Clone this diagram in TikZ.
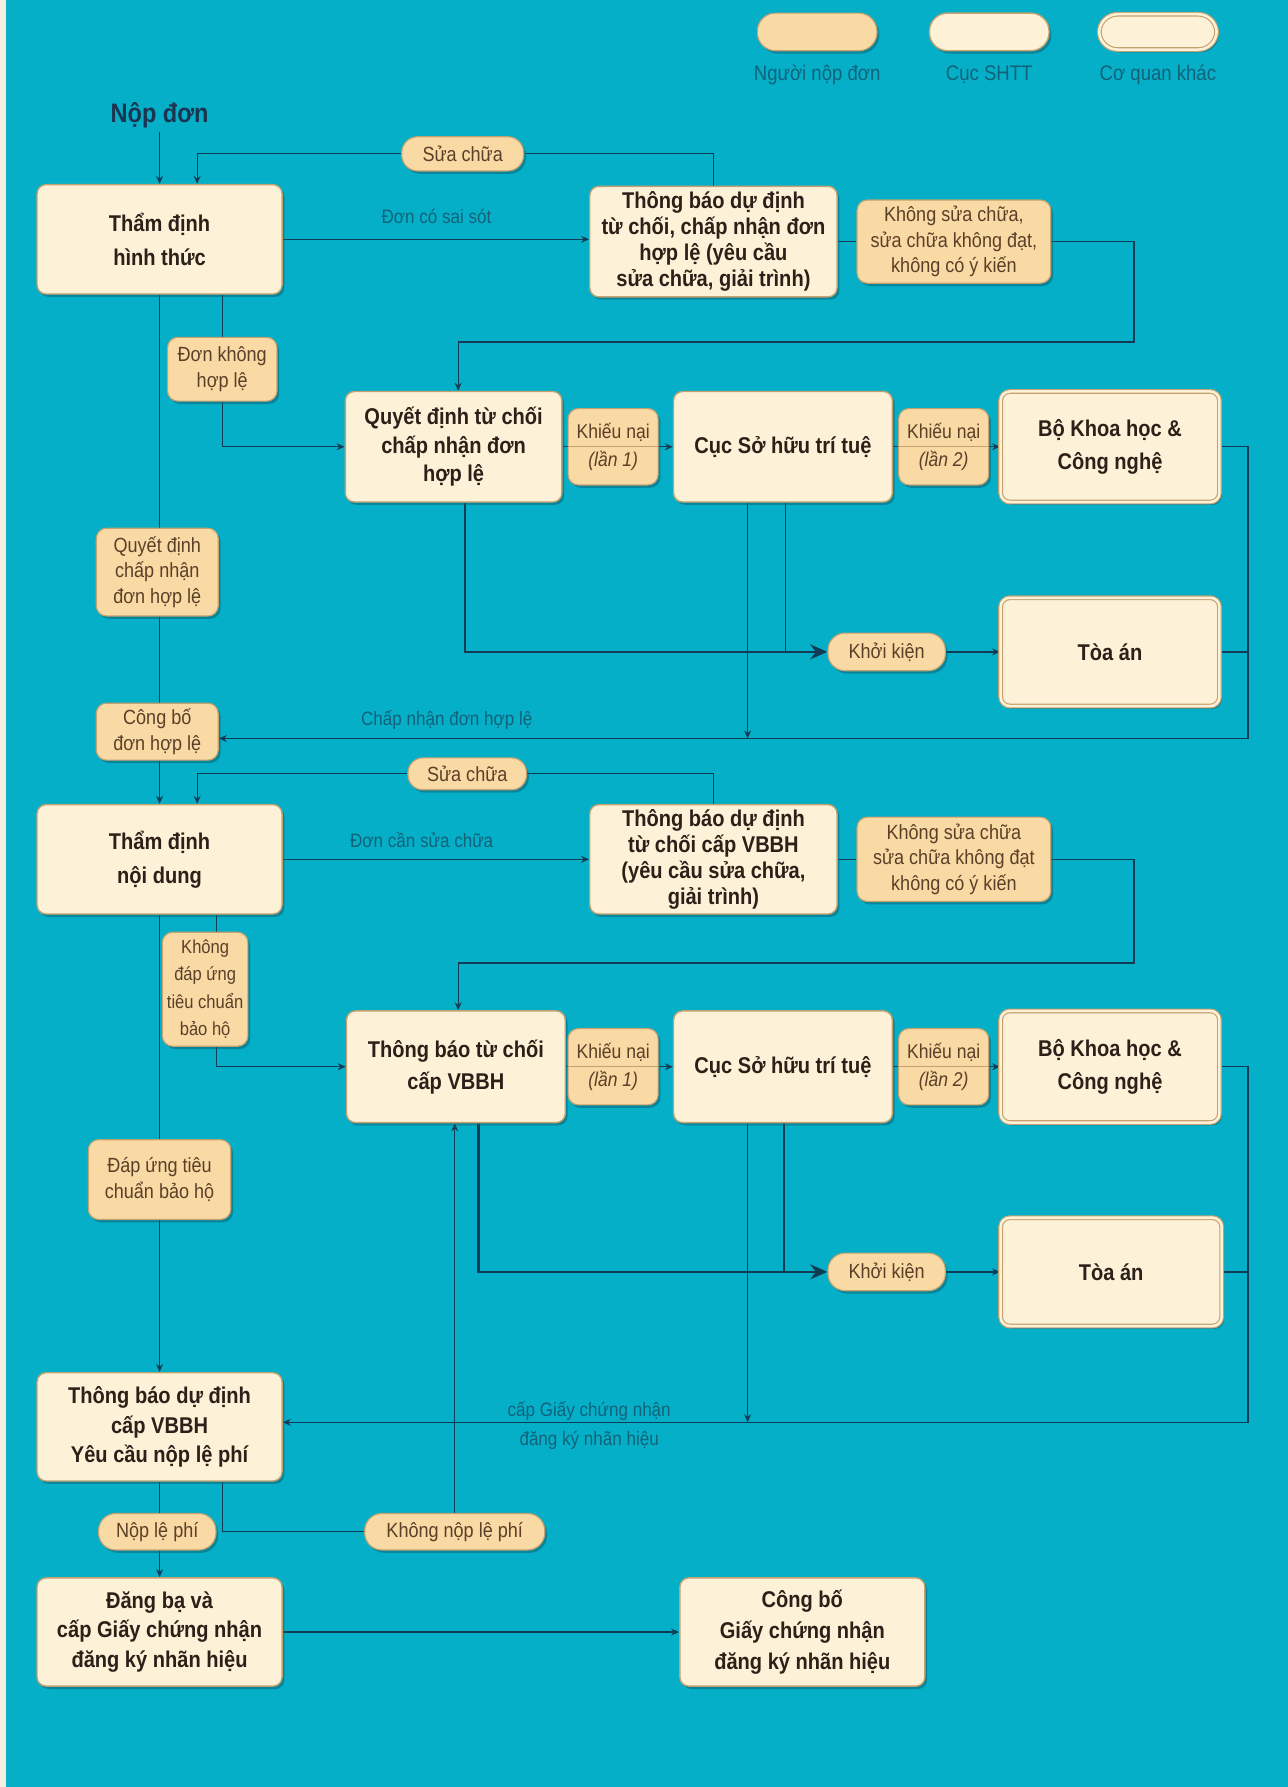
\documentclass[tikz,border=0pt]{standalone}
\usepackage{fontspec}
\setmainfont{Liberation Sans}
\newfontfamily\narrowsf[FakeStretch=0.88]{Liberation Sans}
\usepackage{tikz}
\usetikzlibrary{shadows,backgrounds,arrows.meta}
\definecolor{cnen}{HTML}{04AFC7}
\definecolor{cvien}{HTML}{F2EEE2}
\definecolor{ckem}{HTML}{FDF1D8}
\definecolor{cdao}{HTML}{F9D9A4}
\definecolor{cnau}{HTML}{C4A270}
\definecolor{cchu}{HTML}{2B2118}
\definecolor{cchunhat}{HTML}{5A4028}
\definecolor{cnoi}{HTML}{123C55}
\definecolor{cnhan}{HTML}{12627A}
\definecolor{cbong}{HTML}{0A6476}
\definecolor{ctieude}{HTML}{1D3450}

\tikzset{
  bong/.style={drop shadow={shadow xshift=2pt,shadow yshift=-2.5pt,fill=cbong,opacity=.55}},
  cuc/.style={bong,draw=cnau,line width=1.2pt,fill=ckem,rounded corners=8pt,
    minimum width=215pt,minimum height=96pt,align=center,text=cchu,inner sep=2pt,
    font=\narrowsf\bfseries\fontsize{20}{25}\selectfont},
  khac/.style={cuc,line width=1pt,double=ckem,double distance=2.2pt},
  nguoi/.style={bong,draw=cnau,line width=1pt,fill=cdao,rounded corners=9pt,
    align=center,text=cchunhat,inner sep=3pt,
    font=\narrowsf\fontsize{18}{22.5}\selectfont},
  khieu/.style={nguoi,minimum width=79pt,minimum height=67pt,
    font=\narrowsf\fontsize{17.5}{19}\selectfont,
    path picture={\draw[cnau,line width=1pt] (path picture bounding box.west) -- (path picture bounding box.east);}},
  nhan/.style={text=cnhan,align=center,font=\narrowsf\fontsize{17}{25}\selectfont},
  noi/.style={draw=cnoi,line width=1.1pt,->},
  day/.style={draw=cnoi,line width=1.1pt},
  kien/.style={draw=cnoi,line width=2.4pt,-{Stealth[length=15pt,width=13pt]}}
}

\begin{document}
\begin{tikzpicture}[x=1pt,y=-1pt,>={Stealth[length=7pt,width=6pt]}]
  \useasboundingbox (0,0) rectangle (1130,1568);
  \begin{scope}[on background layer]
    \fill[cnen] (0,0) rectangle (1130,1568);
    \fill[cvien] (0,0) rectangle (5,1568);
  \end{scope}

  % chu thich
  \node[nguoi,minimum width=105pt,minimum height=33pt,rounded corners=16pt] (legNguoi) at (717,28) {};
  \node[cuc,minimum width=105pt,minimum height=33pt,rounded corners=16pt] (legCuc) at (868,28) {};
  \node[khac,minimum width=103pt,minimum height=31pt,rounded corners=16pt] (legKhac) at (1016,28) {};
  \node[nhan,font=\narrowsf\fontsize{18.5}{20}\selectfont] (legNguoiTxt) at (717,66) {Người nộp đơn};
  \node[nhan,font=\narrowsf\fontsize{18.5}{20}\selectfont] (legCucTxt) at (868,66) {Cục SHTT};
  \node[nhan,font=\narrowsf\fontsize{18.5}{20}\selectfont] (legKhacTxt) at (1016,66) {Cơ quan khác};

  \node[text=ctieude,font=\narrowsf\bfseries\fontsize{23.5}{26}\selectfont] (nopdon) at (140,101) {Nộp đơn};

  % tham dinh hinh thuc
  \node[cuc,font=\narrowsf\bfseries\fontsize{20}{30}\selectfont] (thamdinhA) at (140,210) {Thẩm định\\hình thức};
  \node[nguoi,minimum width=107pt,minimum height=30pt,rounded corners=14pt] (suachuaA) at (406,135) {Sửa chữa};
  \node[nhan] (saisot) at (383,190) {Đơn có sai sót};
  \node[cuc,minimum width=217pt,minimum height=97pt,font=\narrowsf\bfseries\fontsize{20}{22.7}\selectfont] (thongbaoA) at (626,212)
    {Thông báo dự định\\từ chối, chấp nhận đơn\\hợp lệ (yêu cầu\\sửa chữa, giải trình)};
  \node[nguoi,minimum width=170pt,minimum height=73pt] (khongsuaA) at (837,212)
    {Không sửa chữa,\\sửa chữa không đạt,\\không có ý kiến};
  \node[nguoi,minimum width=96pt,minimum height=56pt] (donkhong) at (195,324) {Đơn không\\hợp lệ};
  \node[cuc,minimum width=190pt,minimum height=97pt] (quyetdinhA) at (398,392) {Quyết định từ chối\\chấp nhận đơn\\hợp lệ};
  \node[khieu] (knA1) at (538,392) {Khiếu nại\\[6pt]\textit{(lần 1)}};
  \node[cuc,minimum width=192pt,minimum height=97pt] (cucA) at (687,392) {Cục Sở hữu trí tuệ};
  \node[khieu] (knA2) at (828,392) {Khiếu nại\\[6pt]\textit{(lần 2)}};
  \node[khac,minimum width=192pt,minimum height=97pt,font=\narrowsf\bfseries\fontsize{20}{29}\selectfont] (boA) at (974,392) {Bộ Khoa học \&\\Công nghệ};
  \node[nguoi,minimum width=107pt,minimum height=77pt] (quyetcn) at (138,502) {Quyết định\\chấp nhận\\đơn hợp lệ};
  \node[nguoi,minimum width=103pt,minimum height=33pt,rounded corners=15pt] (khoikienA) at (778,572) {Khởi kiện};
  \node[khac,minimum width=192pt,minimum height=95pt] (toaA) at (974,572) {Tòa án};
  \node[nguoi,minimum width=107pt,minimum height=50pt] (congboA) at (138,642) {Công bố\\đơn hợp lệ};
  \node[nhan] (chapnhan) at (392,632) {Chấp nhận đơn hợp lệ};

  % tham dinh noi dung
  \node[nguoi,minimum width=104pt,minimum height=28pt,rounded corners=13pt] (suachuaB) at (410,679) {Sửa chữa};
  \node[cuc,font=\narrowsf\bfseries\fontsize{20}{30}\selectfont] (thamdinhB) at (140,754) {Thẩm định\\nội dung};
  \node[nhan] (cansua) at (370,737) {Đơn cần sửa chữa};
  \node[cuc,minimum width=217pt,font=\narrowsf\bfseries\fontsize{20}{23}\selectfont] (thongbaoB) at (626,754)
    {Thông báo dự định\\từ chối cấp VBBH\\(yêu cầu sửa chữa,\\giải trình)};
  \node[nguoi,minimum width=170pt,minimum height=74pt] (khongsuaB) at (837,754)
    {Không sửa chữa\\sửa chữa không đạt\\không có ý kiến};
  \node[nguoi,minimum width=75pt,minimum height=100pt,inner sep=1pt,font=\narrowsf\fontsize{16.5}{24}\selectfont] (khongdap) at (180,868)
    {Không\\đáp ứng\\tiêu chuẩn\\bảo hộ};
  \node[cuc,minimum width=192pt,minimum height=98pt,font=\narrowsf\bfseries\fontsize{20}{28}\selectfont] (tuchoiB) at (400,936) {Thông báo từ chối\\cấp VBBH};
  \node[khieu] (knB1) at (538,936) {Khiếu nại\\[6pt]\textit{(lần 1)}};
  \node[cuc,minimum width=192pt,minimum height=98pt] (cucB) at (687,936) {Cục Sở hữu trí tuệ};
  \node[khieu] (knB2) at (828,936) {Khiếu nại\\[6pt]\textit{(lần 2)}};
  \node[khac,minimum width=192pt,minimum height=98pt,font=\narrowsf\bfseries\fontsize{20}{29}\selectfont] (boB) at (974,936) {Bộ Khoa học \&\\Công nghệ};
  \node[nguoi,minimum width=125pt,minimum height=70pt,font=\narrowsf\fontsize{18}{23}\selectfont] (dapung) at (140,1035) {Đáp ứng tiêu\\chuẩn bảo hộ};
  \node[nguoi,minimum width=103pt,minimum height=33pt,rounded corners=15pt] (khoikienB) at (778,1116) {Khởi kiện};
  \node[khac,minimum width=194pt,minimum height=95pt] (toaB) at (975,1116) {Tòa án};
  \node[cuc,minimum height=95pt,font=\narrowsf\bfseries\fontsize{20}{26}\selectfont] (capvbbh) at (140,1252)
    {Thông báo dự định\\cấp VBBH\\Yêu cầu nộp lệ phí};
  \node[nhan] (capgcn) at (517,1251) {cấp Giấy chứng nhận\\đăng ký nhãn hiệu};
  \node[nguoi,minimum width=103pt,minimum height=32pt,rounded corners=15pt] (nople) at (138,1344) {Nộp lệ phí};
  \node[nguoi,minimum width=158pt,minimum height=32pt,rounded corners=15pt] (khongnop) at (399,1344) {Không nộp lệ phí};
  \node[cuc,minimum height=95pt,font=\narrowsf\bfseries\fontsize{20}{26}\selectfont] (dangba) at (140,1432)
    {Đăng bạ và\\cấp Giấy chứng nhận\\đăng ký nhãn hiệu};
  \node[cuc,minimum height=95pt,font=\narrowsf\bfseries\fontsize{20}{27}\selectfont] (congboGcn) at (704,1432)
    {Công bố\\Giấy chứng nhận\\đăng ký nhãn hiệu};

  \coordinate (gocA) at (995,300);
  \coordinate (gocB) at (1095,648);
  \coordinate (gocC) at (995,845);
  \coordinate (gocD) at (1095,1248);

  \begin{scope}[on background layer]
    % phan hinh thuc
    \draw[noi] (nopdon) -- (thamdinhA);
    \draw[noi] (thongbaoA.north) |- (suachuaA) -| ([xshift=33pt]thamdinhA.north);
    \draw[noi] (thamdinhA.east) -- (thamdinhA.east -| thongbaoA.west);
    \draw[day] (thongbaoA.east) -- (khongsuaA.west);
    \draw[noi] (khongsuaA.east) -| (gocA) -| ([xshift=4pt]quyetdinhA.north);
    \draw[noi] ([xshift=55pt]thamdinhA.south) |- (quyetdinhA.west);
    \draw[noi] (thamdinhA) -- (thamdinhB);
    \draw[noi] (quyetdinhA) -- (cucA);
    \draw[noi] (cucA) -- (boA);
    \draw[noi] (boA.east) -| (gocB) -- (gocB -| congboA.east);
    \draw[day] (toaA.east) -- (toaA.east -| gocB);
    \draw[kien] ([xshift=10pt]quyetdinhA.south) |- (khoikienA.west);
    \draw[day] ([xshift=2pt]cucA.south) -- ([xshift=2pt]cucA.south |- khoikienA.west);
    \draw[noi] ([xshift=-31pt]cucA.south) -- ([xshift=-31pt]cucA.south |- gocB);
    \draw[noi] (khoikienA) -- (toaA);
    % phan noi dung
    \draw[noi] (thongbaoB.north) |- (suachuaB) -| ([xshift=33pt]thamdinhB.north);
    \draw[noi] (thamdinhB) -- (thongbaoB);
    \draw[day] (thongbaoB) -- (khongsuaB);
    \draw[noi] (khongsuaB.east) -| (gocC) -| ([xshift=2pt]tuchoiB.north);
    \draw[noi] ([xshift=50pt]thamdinhB.south) |- (tuchoiB.west);
    \draw[noi] (thamdinhB) -- (capvbbh);
    \draw[noi] (tuchoiB) -- (cucB);
    \draw[noi] (cucB) -- (boB);
    \draw[noi] (boB.east) -| (gocD) -- (gocD -| capvbbh.east);
    \draw[day] (toaB.east) -- (toaB.east -| gocD);
    \draw[kien] ([xshift=20pt]tuchoiB.south) |- (khoikienB.west);
    \draw[day] ([xshift=1pt]cucB.south) -- ([xshift=1pt]cucB.south |- khoikienB.west);
    \draw[noi] ([xshift=-31pt]cucB.south) -- ([xshift=-31pt]cucB.south |- gocD);
    \draw[noi] (khoikienB) -- (toaB);
    % le phi
    \draw[noi] (capvbbh) -- (dangba);
    \draw[day] ([xshift=55pt]capvbbh.south) |- (khongnop.west);
    \draw[noi] (khongnop.north) -- (khongnop.north |- tuchoiB.south);
    \draw[noi] (dangba) -- (congboGcn);
  \end{scope}
\end{tikzpicture}
\end{document}
